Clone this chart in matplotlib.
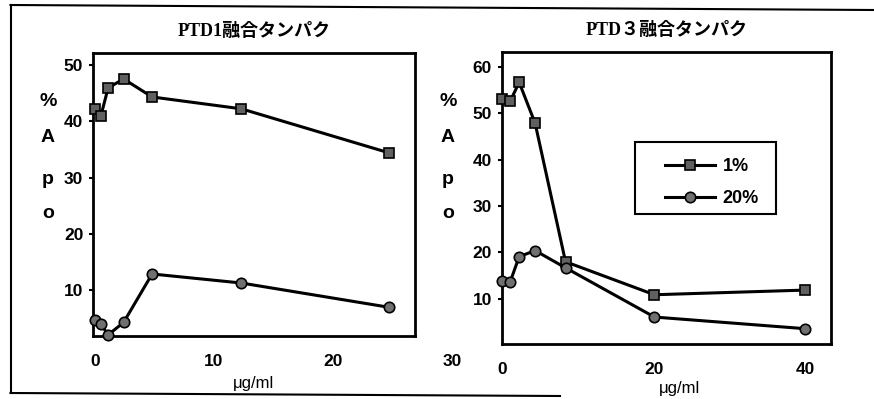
import matplotlib.pyplot as plt
from matplotlib.lines import Line2D
from matplotlib.patches import Rectangle

# --- Data ---
ptd1_conc = [0, 0.5, 1.1, 2.4, 4.8, 12.3, 24.7]
ptd1_1pct = [42.2, 41.0, 45.9, 47.5, 44.3, 42.2, 34.4]
ptd1_20pct = [4.7, 4.0, 2.1, 4.3, 12.9, 11.3, 7.0]

ptd3_conc = [0, 1.1, 2.3, 4.4, 8.4, 20.1, 39.9]
ptd3_1pct = [53.1, 52.5, 56.6, 47.8, 18.0, 10.9, 11.9]
ptd3_20pct = [13.8, 13.6, 19.1, 20.4, 16.7, 6.1, 3.6]

series_labels = ['1%', '20%']
titles = ['PTD1融合タンパク', 'PTD３融合タンパク']
ylabel_letters = ['%', 'A', 'p', 'o']
xlabel = 'μg/ml'
# ------------

W, H = 874, 399
fig = plt.figure(figsize=(W / 100, H / 100), dpi=100)

title_font = dict(family=['Liberation Serif', 'Noto Sans CJK JP'], fontweight='bold', fontsize=13)
tick_font = dict(family='Liberation Sans', fontweight='bold', fontsize=12.5)


def px_rect(x0, y0, x1, y1):
    return [x0 / W, 1 - y1 / H, (x1 - x0) / W, (y1 - y0) / H]


def draw_panel(ax, conc, s1, s20):
    style = dict(color='black', lw=2.2, clip_on=False, zorder=3)
    ax.plot(conc, s1, marker='s', ms=7.5, mfc='#606060', mec='black', mew=1.2,
            label=series_labels[0], **style)
    ax.plot(conc, s20, marker='o', ms=7.5, mfc='#707070', mec='black', mew=1.2,
            label=series_labels[1], **style)
    for sp in ax.spines.values():
        sp.set_linewidth(2.0)
    ax.tick_params(direction='out', length=3, width=1.5, pad=4)
    ax.tick_params(axis='x', length=0, pad=13)
    for lbl in ax.get_xticklabels() + ax.get_yticklabels():
        lbl.set_fontfamily(tick_font['family'])
        lbl.set_fontweight(tick_font['fontweight'])
        lbl.set_fontsize(tick_font['fontsize'])


# left panel
ax1 = fig.add_axes(px_rect(93, 53, 415, 336))
ax1.set_xlim(-0.17, 26.9)
ax1.set_ylim(1.9, 52.1)
ax1.set_xticks([0, 10, 20])
ax1.set_yticks([10, 20, 30, 40, 50])
draw_panel(ax1, ptd1_conc, ptd1_1pct, ptd1_20pct)
ax1.set_title(titles[0], pad=12, **title_font)
ax1.set_xlabel(xlabel, family='Liberation Sans', fontsize=12)
ax1.xaxis.set_label_coords(0.5, -0.14)
# stray axis label beyond the plotted range
ax1.text(30, -0.065, '30', transform=ax1.get_xaxis_transform(), ha='center', va='top',
         clip_on=False, **tick_font)

# right panel
ax2 = fig.add_axes(px_rect(501.7, 51.7, 830.7, 344))
ax2.set_xlim(0, 43.3)
ax2.set_ylim(0.3, 63.2)
ax2.set_xticks([0, 20, 40])
ax2.set_yticks([10, 20, 30, 40, 50, 60])
draw_panel(ax2, ptd3_conc, ptd3_1pct, ptd3_20pct)
ax2.set_title(titles[1], pad=12, **title_font)
ax2.set_xlabel(xlabel, family='Liberation Sans', fontsize=12)
ax2.xaxis.set_label_coords(0.54, -0.125)

# legend entries without frame, box drawn separately for its wider margins
ax2.legend(loc='upper left', bbox_to_anchor=(0.496, 0.635), frameon=False,
           handlelength=2.8, labelspacing=0.8, borderpad=0, handletextpad=0.4,
           borderaxespad=0, prop=dict(family='Liberation Sans', weight='bold', size=13))
ax2.add_patch(Rectangle((0.405, 0.445), 0.429, 0.246, transform=ax2.transAxes,
                        fill=False, edgecolor='black', lw=1.5, zorder=4))

# stacked y-axis letters
for x in (48, 448):
    for letter, y in zip(ylabel_letters, [102, 138, 180, 214]):
        fig.text(x / W, 1 - y / H, letter, ha='center', va='center',
                 family='Liberation Sans', fontweight='bold', fontsize=14)

# outer frame lines
frame = dict(color='black', lw=1.5, transform=fig.transFigure)
fig.add_artist(Line2D([10.5 / W, 10.5 / W], [1 - 5 / H, 1 - 393 / H], **frame))
fig.add_artist(Line2D([10.5 / W, 1.0], [1 - 5 / H, 1 - 10 / H], **frame))
fig.add_artist(Line2D([10.5 / W, 560 / W], [1 - 393 / H, 1 - 396 / H], **frame))

fig.savefig('out.png', dpi=100)
